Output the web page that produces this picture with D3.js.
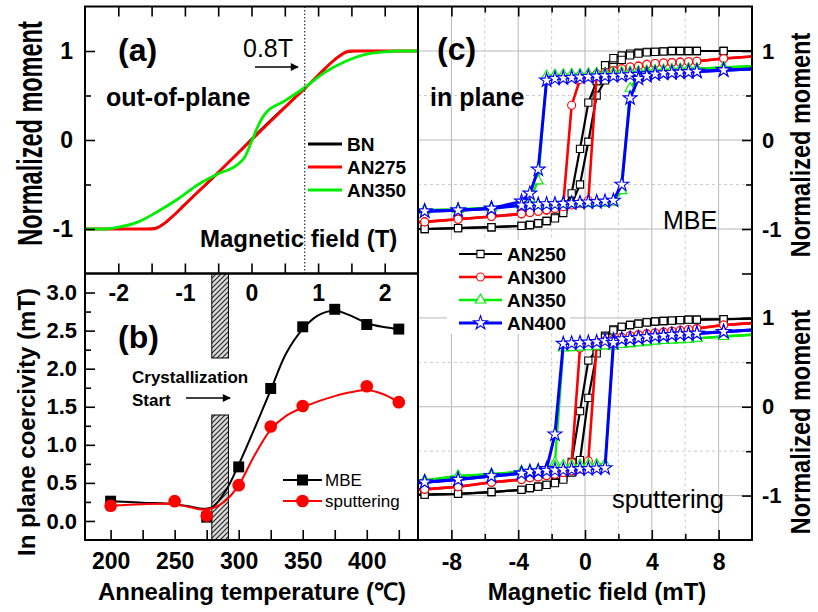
<!DOCTYPE html>
<html><head><meta charset="utf-8">
<script src="https://cdn.jsdelivr.net/npm/d3@7"></script>
<style>body{margin:0;background:#fff}svg{display:block}</style>
</head><body><svg width="818" height="612"></svg>
<script>
// ---------- Panel (a): out-of-plane loops ----------
const fieldBN    = [-2.5,-2.0,-1.6,-1.45,-1.35,-1.0,-0.5,-0.2,0,0.2,0.5,1.0,1.35,1.45,1.6,2.0,2.5];
const momentBN   = [-1,-1,-1,-0.99,-0.96,-0.72,-0.37,-0.14,0.01,0.16,0.37,0.72,0.96,0.99,1,1,1];
const fieldAN275 = [-2.5,-2.0,-1.5,-1.42,-1.3,-0.8,-0.3,0,0.3,0.8,1.3,1.42,1.5,2.0,2.5];
const momentAN275= [-1,-1,-1,-0.99,-0.93,-0.58,-0.22,0,0.22,0.58,0.93,0.99,1,1,1];
const fieldAN350 = [-2.5,-2.2,-2.0,-1.7,-1.4,-1.1,-0.8,-0.5,-0.2,-0.1,0,0.1,0.2,0.5,0.8,1.1,1.4,1.7,2.0,2.2,2.5];
const momentAN350= [-1,-1,-0.98,-0.92,-0.8,-0.66,-0.5,-0.38,-0.27,-0.19,-0.02,0.16,0.29,0.44,0.59,0.76,0.88,0.96,0.99,1,1];
const legendA = ["BN","AN275","AN350"];
const markField = 0.8;

// ---------- Panel (b): coercivity vs annealing ----------
const tempsMBE  = [200,275,300,325,350,375,400,425];
const coercMBE  = [0.26,0.05,0.71,1.74,2.55,2.78,2.58,2.52];
const tempsSput = [200,250,275,300,325,350,400,425];
const coercSput = [0.2,0.26,0.07,0.47,1.24,1.51,1.77,1.56];
const fitTemps  = [200,225,250,262,272,280,290,300,312,325,337,350,362,375,387,400,412,425];
const fitMBE    = [0.26,0.24,0.22,0.19,0.16,0.19,0.4,0.74,1.2,1.72,2.2,2.52,2.7,2.76,2.7,2.6,2.55,2.52];
const fitSput   = [0.2,0.22,0.22,0.18,0.15,0.17,0.27,0.47,0.85,1.2,1.38,1.49,1.57,1.64,1.69,1.72,1.67,1.56];
const crystRange = [279,292];
const legendB = ["MBE","sputtering"];

// ---------- Panel (c): in-plane hysteresis loops ----------
const fieldGrid = [-11.3,-9.6,-7.6,-5.6,-3.8,-3.3,-2.8,-2.3,-1.8,-1.3,-0.8,-0.3,0.2,0.7,1.2,1.7,2.2,2.7,3.2,3.7,4.2,4.7,5.2,5.7,6.2,6.7,8.3,11.5];
const legendC = ["AN250","AN300","AN350","AN400"];
// MBE (descending / ascending branches)
const mbe250Dn = [-1,-1,-0.99,-0.98,-0.965,-0.955,-0.94,-0.91,-0.87,-0.78,-0.6,-0.1,0.42,0.66,0.84,0.92,0.95,0.97,0.98,0.99,0.99,0.995,1,1,1,1,1,1];
const mbe250Up = [-1,-1,-0.99,-0.98,-0.965,-0.955,-0.935,-0.91,-0.88,-0.82,-0.72,-0.5,-0.02,0.5,0.67,0.82,0.9,0.95,0.97,0.985,0.99,0.995,1,1,1,1,1,1];
const mbe300Dn = [-0.93,-0.92,-0.89,-0.86,-0.83,-0.815,-0.8,-0.79,-0.77,-0.72,0.39,0.68,0.71,0.74,0.76,0.78,0.8,0.82,0.83,0.85,0.86,0.865,0.87,0.875,0.88,0.885,0.915,0.96];
const mbe300Up = [-0.93,-0.92,-0.89,-0.86,-0.83,-0.815,-0.8,-0.785,-0.77,-0.75,-0.73,-0.71,-0.68,0.74,0.76,0.78,0.8,0.82,0.83,0.85,0.86,0.865,0.87,0.875,0.88,0.885,0.915,0.96];
const mbe350Dn = [-0.8,-0.79,-0.78,-0.76,-0.72,-0.66,-0.46,0.72,0.73,0.735,0.74,0.74,0.745,0.75,0.75,0.755,0.76,0.765,0.77,0.775,0.78,0.785,0.79,0.795,0.8,0.8,0.815,0.84];
const mbe350Up = [-0.8,-0.79,-0.78,-0.76,-0.73,-0.73,-0.73,-0.725,-0.725,-0.72,-0.72,-0.715,-0.715,-0.71,-0.71,-0.7,-0.57,0.58,0.72,0.76,0.78,0.785,0.79,0.795,0.8,0.8,0.815,0.84];
const mbe400Dn = [-0.81,-0.8,-0.79,-0.77,-0.69,-0.6,-0.33,0.67,0.69,0.695,0.7,0.705,0.71,0.715,0.72,0.72,0.725,0.73,0.735,0.74,0.745,0.75,0.755,0.76,0.765,0.77,0.785,0.81];
const mbe400Up = [-0.81,-0.8,-0.79,-0.77,-0.735,-0.73,-0.725,-0.72,-0.72,-0.715,-0.71,-0.705,-0.7,-0.695,-0.69,-0.68,-0.5,0.47,0.69,0.72,0.74,0.75,0.755,0.76,0.765,0.77,0.785,0.81];
// sputtering
const spu250Dn = [-1,-0.99,-0.98,-0.96,-0.935,-0.915,-0.9,-0.88,-0.85,-0.8,-0.62,-0.05,0.52,0.64,0.8,0.87,0.9,0.92,0.935,0.95,0.96,0.965,0.97,0.975,0.98,0.98,0.985,1];
const spu250Up = [-1,-0.99,-0.98,-0.96,-0.935,-0.915,-0.9,-0.88,-0.86,-0.82,-0.74,-0.6,0.1,0.6,0.78,0.86,0.9,0.92,0.935,0.95,0.96,0.965,0.97,0.975,0.98,0.98,0.985,1];
const spu300Dn = [-0.95,-0.93,-0.9,-0.85,-0.82,-0.8,-0.79,-0.775,-0.76,-0.74,-0.63,0.66,0.7,0.72,0.74,0.76,0.78,0.8,0.81,0.82,0.83,0.84,0.85,0.86,0.87,0.88,0.92,0.96];
const spu300Up = [-0.95,-0.93,-0.9,-0.85,-0.82,-0.8,-0.79,-0.775,-0.76,-0.74,-0.72,-0.7,-0.61,0.7,0.74,0.76,0.78,0.8,0.81,0.82,0.83,0.84,0.85,0.86,0.87,0.88,0.92,0.96];
const spu350Dn = [-0.85,-0.83,-0.78,-0.76,-0.73,-0.73,-0.72,-0.71,-0.63,0.66,0.665,0.67,0.675,0.68,0.685,0.69,0.7,0.71,0.72,0.73,0.74,0.745,0.75,0.755,0.76,0.77,0.79,0.83];
const spu350Up = [-0.85,-0.83,-0.78,-0.76,-0.73,-0.72,-0.71,-0.7,-0.67,-0.66,-0.66,-0.655,-0.65,-0.65,-0.645,0.68,0.7,0.71,0.72,0.73,0.74,0.745,0.75,0.755,0.76,0.77,0.79,0.83];
const spu400Dn = [-0.87,-0.85,-0.82,-0.78,-0.75,-0.74,-0.73,-0.7,-0.31,0.71,0.715,0.72,0.725,0.73,0.74,0.75,0.76,0.765,0.775,0.785,0.795,0.8,0.81,0.815,0.82,0.825,0.845,0.88];
const spu400Up = [-0.87,-0.85,-0.82,-0.78,-0.75,-0.73,-0.725,-0.72,-0.715,-0.71,-0.705,-0.7,-0.7,-0.695,-0.69,0.72,0.76,0.765,0.775,0.785,0.795,0.8,0.81,0.815,0.82,0.825,0.845,0.88];

// ---------- drawing ----------
const FONT = '"Liberation Sans", Arial, Helvetica, sans-serif';
const svg = d3.select("svg");
const defs = svg.append("defs");

const xA = d3.scaleLinear([-2.5,2.5],[85,418]);
const yA = d3.scaleLinear([-1.5,1.5],[273.5,6.5]);
const xB = d3.scaleLinear([180,440],[85,418]);
const yB = d3.scaleLinear([-0.25,3.25],[540,273.5]);
const xC = d3.scaleLinear([-10,10],[418,752]);
const yC1 = d3.scaleLinear([-1.5,1.5],[273.5,6.5]);
const yC2 = d3.scaleLinear([-1.5,1.5],[540,273.5]);

defs.append("marker").attr("id","arr").attr("viewBox","0 0 10 10").attr("refX",9).attr("refY",5)
  .attr("markerUnits","userSpaceOnUse").attr("markerWidth",11).attr("markerHeight",8).attr("orient","auto")
  .append("path").attr("d","M0,0L10,5L0,10z").attr("fill","#000");
const pat = defs.append("pattern").attr("id","hatch").attr("patternUnits","userSpaceOnUse").attr("width",5).attr("height",5);
pat.append("rect").attr("width",5).attr("height",5).attr("fill","#dadada");
pat.append("path").attr("d","M-1,1L1,-1M0,5L5,0M4,6L6,4").attr("stroke","#222").attr("stroke-width",1.1);
function clip(id,x0,y0,x1,y1){defs.append("clipPath").attr("id",id).append("rect").attr("x",x0).attr("y",y0).attr("width",x1-x0).attr("height",y1-y0);}
clip("clipA",85,6.5,418,273.5); clip("clipC1",418,6.5,752,273.5); clip("clipC2",418,273.5,752,540);

function txt(x,y,s,fs,opts={}){
  const t = svg.append("text").text(s).attr("font-family",FONT)
    .attr("font-size",fs).attr("font-weight",opts.weight||"bold").attr("fill","#000")
    .attr("text-anchor",opts.anchor||"start");
  if(opts.rotate!==undefined){
    t.attr("x",0).attr("y",0).attr("transform",`translate(${x},${y}) rotate(${opts.rotate}) scale(1,${opts.sy||1})`);
  } else t.attr("x",x).attr("y",y);
  return t;
}
function axis(gen,scale,vals,size,fmt,pad,fs,tr){
  const g = svg.append("g").attr("transform",tr)
    .call(gen(scale).tickValues(vals).tickSize(size).tickPadding(pad).tickFormat(fmt));
  g.select(".domain").remove();
  g.selectAll(".tick line").attr("stroke","#000").attr("stroke-width",1.6);
  g.selectAll("text").attr("font-family",FONT).attr("font-size",fs).attr("font-weight","bold").attr("fill","#000");
  return g;
}
const none = () => "";
const intFmt = d => Number.isInteger(d) ? String(d) : "";

// ===== Panel (c) grid =====
function grid(yS){
  const g = svg.append("g");
  d3.range(-8,9,2).forEach(v=>{
    const major = v%4===0;
    g.append("line").attr("x1",xC(v)).attr("x2",xC(v)).attr("y1",yS.range()[1]).attr("y2",yS.range()[0])
      .attr("stroke",major?"#b9b9b9":"#cdcdcd").attr("stroke-width",1).attr("stroke-dasharray",major?null:"3,3");
  });
  [-1,-0.5,0,0.5,1].forEach(v=>{
    const major = Number.isInteger(v);
    g.append("line").attr("x1",418).attr("x2",752).attr("y1",yS(v)).attr("y2",yS(v))
      .attr("stroke",major?"#b9b9b9":"#cdcdcd").attr("stroke-width",1).attr("stroke-dasharray",major?null:"3,3");
  });
}
grid(yC1); grid(yC2);

// ===== Panel (b) hatch =====
const hx0 = xB(crystRange[0]), hx1 = xB(crystRange[1]);
[[yB.range()[1],358],[415,yB.range()[0]]].forEach(([a,b])=>{
  svg.append("rect").attr("x",hx0).attr("y",a).attr("width",hx1-hx0).attr("height",b-a)
    .attr("fill","url(#hatch)").attr("stroke","#000").attr("stroke-width",1);
});

// ===== Panel (a) curves =====
const colA = ["#000000","#ff0000","#00ee00"];
const gA = svg.append("g").attr("clip-path","url(#clipA)");
[[fieldBN,momentBN],[fieldAN275,momentAN275],[fieldAN350,momentAN350]].forEach(([f,m],i)=>{
  gA.append("path").attr("d",d3.line().curve(d3.curveMonotoneX).x(d=>xA(d[0])).y(d=>yA(d[1]))(f.map((v,j)=>[v,m[j]])))
    .attr("fill","none").attr("stroke",colA[i]).attr("stroke-width",i===0?2.2:2.8);
});
// 0.8 T dotted line
svg.append("line").attr("x1",xA(markField)).attr("x2",xA(markField)).attr("y1",6.5).attr("y2",273.5)
  .attr("stroke","#000").attr("stroke-width",1).attr("stroke-dasharray","1.5,2");
svg.append("line").attr("x1",255).attr("x2",298).attr("y1",67).attr("y2",67)
  .attr("stroke","#000").attr("stroke-width",1.5).attr("marker-end","url(#arr)");
// legend (a)
legendA.forEach((n,i)=>{
  const y = 144 + i*23;
  svg.append("line").attr("x1",308).attr("x2",342).attr("y1",y).attr("y2",y).attr("stroke",colA[i]).attr("stroke-width",2.8);
  txt(347,y+7,n,19);
});

// ===== Panel (b) curves =====
const lineB = d3.line().curve(d3.curveCatmullRom.alpha(0.5)).x(d=>xB(d[0])).y(d=>yB(d[1]));
svg.append("path").attr("d",lineB(fitTemps.map((t,i)=>[t,fitMBE[i]]))).attr("fill","none").attr("stroke","#000").attr("stroke-width",2);
svg.append("path").attr("d",lineB(fitTemps.map((t,i)=>[t,fitSput[i]]))).attr("fill","none").attr("stroke","#ff0000").attr("stroke-width",2);
const sq = d3.symbol().type(d3.symbolSquare).size(120);
const ci = d3.symbol().type(d3.symbolCircle).size(125);
tempsMBE.forEach((t,i)=>svg.append("path").attr("d",sq()).attr("transform",`translate(${xB(t)},${yB(coercMBE[i])})`).attr("fill","#000"));
tempsSput.forEach((t,i)=>svg.append("path").attr("d",ci()).attr("transform",`translate(${xB(t)},${yB(coercSput[i])})`).attr("fill","#ff0000"));
// legend (b)
[["#000",sq],["#ff0000",ci]].forEach(([c,sym],i)=>{
  const y = 480 + i*21;
  svg.append("line").attr("x1",283).attr("x2",322).attr("y1",y).attr("y2",y).attr("stroke",c).attr("stroke-width",2);
  svg.append("path").attr("d",sym()).attr("transform",`translate(302.5,${y})`).attr("fill",c);
  txt(325,y+6,legendB[i],17,{weight:"normal"});
});
txt(132,383,"Crystallization",17);
txt(132,406,"Start",17);
svg.append("line").attr("x1",186).attr("x2",230).attr("y1",398).attr("y2",398)
  .attr("stroke","#000").attr("stroke-width",1.5).attr("marker-end","url(#arr)");

// ===== Panel (c) loops =====
const colC = ["#000000","#ff0000","#00ee00","#0000ff"];
const symC = [d3.symbolSquare,d3.symbolCircle,d3.symbolTriangle,d3.symbolStar];
const sizeC = [52,50,45,60];
const widC = [2.2,2.6,2.4,3];
function loops(yS,clipId,series){
  const g = svg.append("g").attr("clip-path",`url(#${clipId})`);
  series.forEach((branches,i)=>{
    const sym = d3.symbol().type(symC[i]).size(sizeC[i]);
    branches.forEach(arr=>{
      const pts = fieldGrid.map((h,j)=>[h,arr[j]]);
      g.append("path").attr("d",d3.line().x(d=>xC(d[0])).y(d=>yS(d[1]))(pts))
        .attr("fill","none").attr("stroke",colC[i]).attr("stroke-width",widC[i]).attr("stroke-linejoin","round");
    });
    branches.forEach(arr=>{
      fieldGrid.forEach((h,j)=>{
        g.append("path").attr("d",sym()).attr("transform",`translate(${xC(h)},${yS(arr[j])})`)
          .attr("fill","#fff").attr("stroke",colC[i]).attr("stroke-width",1.1);
      });
    });
  });
}
loops(yC1,"clipC1",[[mbe250Dn,mbe250Up],[mbe300Dn,mbe300Up],[mbe350Dn,mbe350Up],[mbe400Dn,mbe400Up]]);
loops(yC2,"clipC2",[[spu250Dn,spu250Up],[spu300Dn,spu300Up],[spu350Dn,spu350Up],[spu400Dn,spu400Up]]);

// legend (c)
svg.append("rect").attr("x",447).attr("y",240).attr("width",123).attr("height",94).attr("fill","#fff");
legendC.forEach((n,i)=>{
  const y = 254 + i*23;
  svg.append("line").attr("x1",459).attr("x2",502).attr("y1",y).attr("y2",y).attr("stroke",colC[i]).attr("stroke-width",widC[i]);
  svg.append("path").attr("d",d3.symbol().type(symC[i]).size(sizeC[i])()).attr("transform",`translate(480.5,${y})`)
    .attr("fill","#fff").attr("stroke",colC[i]).attr("stroke-width",1.1);
  txt(507,y+7,n,19);
});

// ===== Axes =====
// (a)
axis(d3.axisLeft,yA,[-1,0,1],-10,d=>String(d),12,23,"translate(85,0)");
axis(d3.axisLeft,yA,[-0.5,0.5],-6,none,0,1,"translate(85,0)");
const halfT = d3.range(-2,2.01,0.5);
axis(d3.axisBottom,xA,halfT,-10,intFmt,11,23,"translate(0,273.5)");
axis(d3.axisTop,xA,halfT,-10,none,0,1,"translate(0,6.5)");
// (b)
axis(d3.axisLeft,yB,d3.range(0,3.01,0.5),-10,d=>d.toFixed(1),8,22,"translate(85,0)");
axis(d3.axisLeft,yB,d3.range(0.25,3.0,0.5),-6,none,0,1,"translate(85,0)");
axis(d3.axisBottom,xB,d3.range(200,426,25),-10,d=>d%50===0?String(d):"",13,23,"translate(0,540)");
// (c)
axis(d3.axisTop,xC,[-8,-4,0,4,8],-10,none,0,1,"translate(0,6.5)");
axis(d3.axisTop,xC,[-6,-2,2,6],-6,none,0,1,"translate(0,6.5)");
axis(d3.axisBottom,xC,[-8,-4,0,4,8],-10,d=>String(d),14,23,"translate(0,540)");
axis(d3.axisBottom,xC,[-6,-2,2,6],-6,none,0,1,"translate(0,540)");
[yC1,yC2].forEach(yS=>{
  axis(d3.axisRight,yS,[-1,0,1],-10,d=>String(d),10,22,"translate(752,0)");
  axis(d3.axisRight,yS,[-0.5,0.5],-6,none,0,1,"translate(752,0)");
});
axis(d3.axisRight,yC1,[-1.5],-10,none,0,1,"translate(752,0)");

// frames
[[85,6.5,418,273.5],[85,273.5,418,540],[418,6.5,752,540]].forEach(([a,b,c,d])=>{
  svg.append("rect").attr("x",a).attr("y",b).attr("width",c-a).attr("height",d-b)
    .attr("fill","none").attr("stroke","#000").attr("stroke-width",2);
});

// ===== Texts =====
txt(118,61,"(a)",32);
txt(106,106,"out-of-plane",25);
txt(243,57,"0.8T",25,{weight:"normal"});
txt(200,247,"Magnetic field (T)",24);
txt(118,348,"(b)",32);
txt(437,60,"(c)",32);
txt(430,106,"in plane",25);
txt(663,229,"MBE",25,{weight:"normal"});
txt(612,508,"sputtering",25.5,{weight:"normal"});
txt(252,600,"Annealing temperature (\u2103)",24,{anchor:"middle"});
txt(597,600,"Magnetic field (mT)",24,{anchor:"middle"});
txt(35,422,"In plane coercivity (mT)",24,{anchor:"middle",rotate:-90});
txt(42,133.5,"Normalized moment",23.5,{anchor:"middle",rotate:-90,sy:1.5});
txt(810,145,"Normalized moment",23.5,{anchor:"middle",rotate:-90,sy:1.15});
txt(810,422,"Normalized moment",23.5,{anchor:"middle",rotate:-90,sy:1.15});
</script></body></html>
